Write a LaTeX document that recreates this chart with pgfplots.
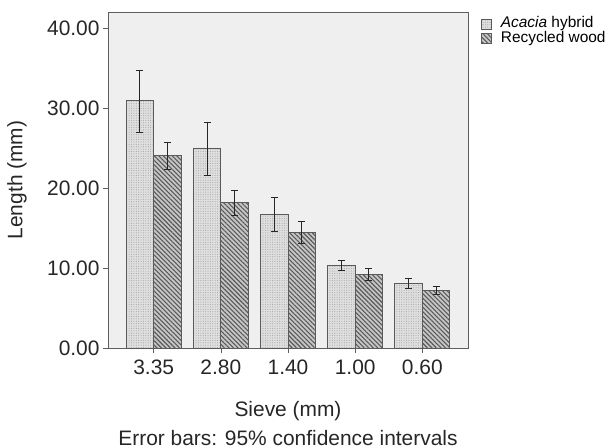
\documentclass[border=0pt]{standalone}
\usepackage{fontspec}
\setmainfont{Liberation Sans}
\usepackage{pgfplots}
\pgfplotsset{compat=1.18}
\usetikzlibrary{patterns.meta}

\definecolor{panel}{HTML}{EFEFEF}
\definecolor{frame}{HTML}{5E5E5E}
\definecolor{barline}{HTML}{5A5A5A}

\pgfplotsset{eb/.style={error bars/.cd, y dir=both, y explicit,
    error bar style={color=black!85, line width=1pt},
    error mark options={rotate=90, mark size=3.5bp, line width=1pt, color=black!85}}}

\begin{document}
\begin{tikzpicture}
\path[use as bounding box] (-108bp,-100bp) rectangle (502bp,348bp);
\begin{axis}[
    at={(0,0)}, anchor=south west,
    scale only axis,
    width=360bp, height=336bp,
    ybar=0pt, bar width=27.5bp,
    xmin=-0.68, xmax=4.68,
    ymin=0, ymax=42,
    xtick=data,
    xticklabels={3.35,2.80,1.40,1.00,0.60},
    ytick={0,10,20,30,40},
    yticklabel style={/pgf/number format/.cd, fixed, fixed zerofill, precision=2, assume math mode=true},
    xticklabel style={yshift=-3bp},
    xtick pos=bottom, ytick pos=left,
    tick align=outside,
    major tick length=5bp,
    tick style={color=frame, line width=0.6pt},
    axis line style={color=frame, line width=0.7pt},
    axis background/.style={fill=panel},
    ticklabel style={font=\fontsize{21}{25}\selectfont, text=black!85},
    label style={font=\fontsize{21}{25}\selectfont, text=black!85},
    xlabel={Sieve (mm)},
    ylabel={Length (mm)},
    xlabel style={at={(axis description cs:0.5,-0.2024)}, anchor=base},
    ylabel style={at={(axis description cs:-0.253,0.5)}, anchor=center},
    legend style={at={(axis description cs:1.036,0.985)}, anchor=north west,
        draw=none, fill=none, inner sep=0pt,
        font=\fontsize{15.5}{15.5}\selectfont, row sep=1bp,
        nodes={inner sep=0pt, text height=10.5bp, text depth=3bp},
        /tikz/every odd column/.append style={column sep=9bp}},
    legend cell align=left,
    legend image code/.code={\draw[#1] (0bp,-5bp) rectangle (10bp,5bp);},
]
% Acacia hybrid
\addplot[draw=barline, line width=0.7pt, fill=gray!25,
    postaction={pattern={Dots[distance=2.4pt, radius=0.55pt]}, pattern color=gray!70}, eb]
    coordinates {
    (0,30.9)  += (0,3.85) -= (0,4.0)
    (1,25.0)  += (0,3.25) -= (0,3.4)
    (2,16.75) += (0,2.05) -= (0,2.15)
    (3,10.3)  += (0,0.6)  -= (0,0.55)
    (4,8.1)   += (0,0.65) -= (0,0.7)
};
\addlegendentry{\textit{Acacia} hybrid}
% Recycled wood
\addplot[draw=barline, line width=0.7pt, fill=gray!45,
    postaction={pattern={Lines[angle=-45, distance=3.2pt, line width=1.1pt]}, pattern color=black!65}, eb]
    coordinates {
    (0,24.1)  += (0,1.6)  -= (0,1.8)
    (1,18.2)  += (0,1.5)  -= (0,1.6)
    (2,14.45) += (0,1.35) -= (0,1.35)
    (3,9.2)   += (0,0.8)  -= (0,0.7)
    (4,7.2)   += (0,0.55) -= (0,0.45)
};
\addlegendentry{Recycled wood}
\end{axis}
\node[font=\fontsize{21}{25}\selectfont, text=black!85, anchor=base, yshift=-97bp]
    at (current axis.south) {Error bars: 95\% confidence intervals};
\end{tikzpicture}
\end{document}
